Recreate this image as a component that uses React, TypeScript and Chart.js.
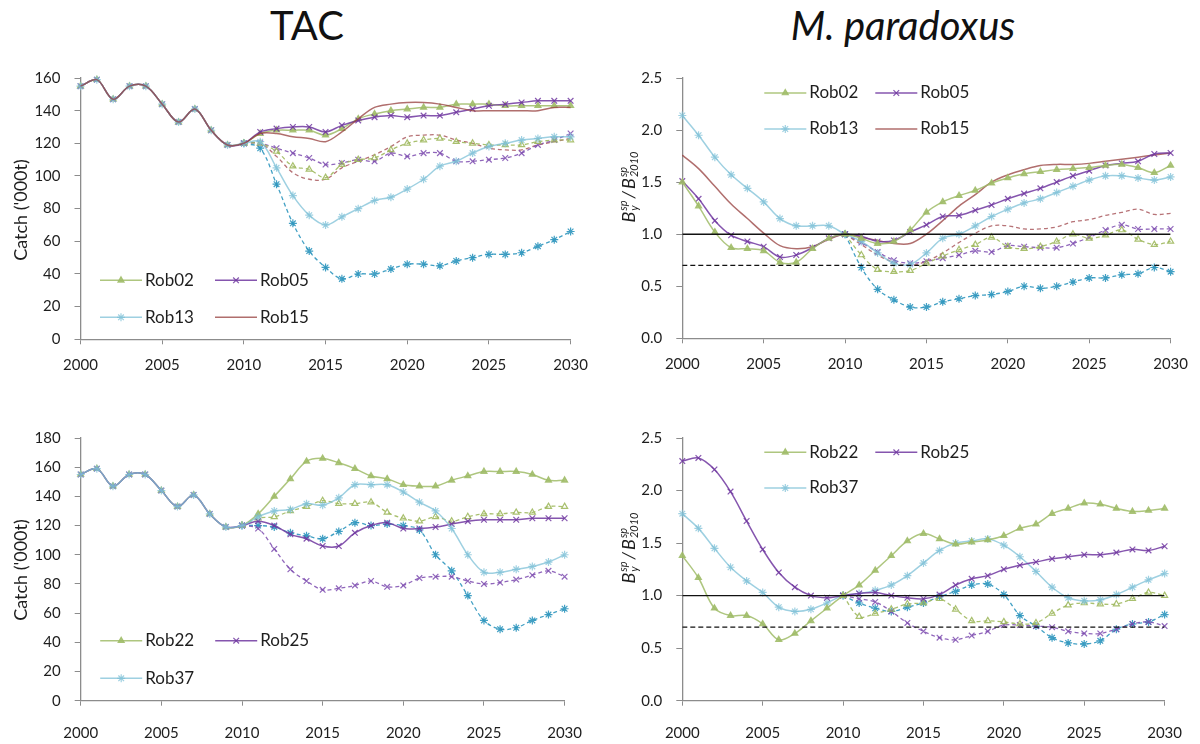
import React, { useEffect, useRef } from 'react';
import { Chart, registerables } from 'chart.js';
import { drawPoint } from 'chart.js/helpers';

Chart.register(...registerables);

// x axis years
const years = [2000, 2001, 2002, 2003, 2004, 2005, 2006, 2007, 2008, 2009, 2010, 2011, 2012, 2013, 2014, 2015, 2016, 2017, 2018, 2019, 2020, 2021, 2022, 2023, 2024, 2025, 2026, 2027, 2028, 2029, 2030];
const projYears = [2010, 2011, 2012, 2013, 2014, 2015, 2016, 2017, 2018, 2019, 2020, 2021, 2022, 2023, 2024, 2025, 2026, 2027, 2028, 2029, 2030];
const refYears = [2000, 2030];
const refOne = [1.0, 1.0];
const refLimit = [0.7, 0.7];

// historical catch 2000-2010 ('000t)
const histCatch = [155, 159, 147, 155, 155, 144, 133, 141, 128, 119, 120];

// TAC projections 2011-2030, top panel
const tacRob02 = [126, 128, 128, 128, 125, 129, 135, 138, 140, 141, 142, 142, 144, 144, 144, 143, 143, 143, 143, 143];
const tacRob05 = [127, 129, 130, 130, 127, 131, 134, 136, 137, 136, 137, 137, 139, 141, 143, 144, 145, 146, 146, 146];
const tacRob13 = [121, 105, 88, 76, 70, 75, 80, 85, 87, 92, 98, 106, 109, 114, 118, 120, 122, 123, 124, 124];
const tacRob15 = [126, 126, 124, 123, 121, 127, 135, 142, 144, 145, 145, 144, 142, 140, 140, 140, 140, 140, 142, 142];
const tacRob02d = [120, 115, 106, 104, 99, 107, 110, 111, 116, 120, 122, 123, 121, 120, 119, 119, 119, 121, 122, 122];
const tacRob05d = [120, 117, 114, 111, 107, 108, 110, 109, 114, 112, 114, 114, 109, 109, 110, 111, 114, 119, 122, 126];
const tacRob13d = [117, 95, 71, 54, 44, 37, 40, 40, 43, 46, 46, 45, 48, 50, 52, 52, 53, 57, 61, 66];
const tacRob15d = [120, 112, 102, 98, 98, 105, 109, 113, 118, 124, 125, 125, 122, 120, 117, 116, 116, 119, 121, 123];

// TAC projections 2011-2030, bottom panel
const tacRob22 = [128, 140, 152, 164, 166, 163, 159, 154, 152, 148, 147, 147, 151, 154, 157, 157, 157, 155, 151, 151];
const tacRob25 = [123, 120, 114, 111, 106, 106, 115, 120, 122, 118, 118, 119, 121, 123, 124, 124, 124, 125, 125, 125];
const tacRob37 = [126, 130, 131, 135, 134, 139, 148, 148, 148, 143, 136, 130, 118, 100, 88, 88, 90, 92, 95, 100];
const tacRob22d = [125, 126, 130, 133, 137, 135, 135, 136, 129, 125, 123, 126, 123, 126, 128, 128, 129, 129, 133, 133];
const tacRob25d = [118, 104, 90, 82, 76, 77, 79, 82, 78, 79, 84, 85, 85, 82, 80, 81, 83, 86, 89, 85];
const tacRob37d = [120, 119, 115, 113, 111, 116, 122, 120, 121, 120, 117, 100, 89, 72, 55, 49, 50, 55, 59, 63];

// Bsp_y / Bsp_2010, 2000-2030, top panel
const bRob02 = [1.50, 1.27, 1.02, 0.87, 0.86, 0.84, 0.73, 0.73, 0.86, 0.96, 1.00, 0.96, 0.91, 0.93, 1.04, 1.21, 1.31, 1.37, 1.42, 1.49, 1.54, 1.58, 1.60, 1.62, 1.63, 1.64, 1.66, 1.67, 1.64, 1.59, 1.66];
const bRob05 = [1.51, 1.34, 1.13, 0.99, 0.93, 0.88, 0.78, 0.80, 0.87, 0.96, 1.00, 0.98, 0.93, 0.94, 1.02, 1.09, 1.17, 1.18, 1.23, 1.28, 1.34, 1.39, 1.44, 1.50, 1.56, 1.61, 1.66, 1.68, 1.70, 1.77, 1.78];
const bRob13 = [2.14, 1.95, 1.74, 1.57, 1.44, 1.31, 1.15, 1.08, 1.08, 1.08, 1.00, 0.93, 0.82, 0.72, 0.71, 0.82, 0.96, 1.00, 1.08, 1.17, 1.24, 1.30, 1.34, 1.40, 1.46, 1.52, 1.56, 1.56, 1.54, 1.52, 1.55];
const bRob15 = [1.76, 1.63, 1.46, 1.29, 1.15, 1.01, 0.89, 0.86, 0.88, 0.95, 1.00, 0.97, 0.94, 0.91, 0.91, 1.00, 1.13, 1.27, 1.38, 1.50, 1.57, 1.62, 1.66, 1.67, 1.67, 1.68, 1.70, 1.72, 1.74, 1.76, 1.78];
// 2011-2030
const bRob02d = [0.80, 0.66, 0.64, 0.65, 0.72, 0.79, 0.85, 0.90, 0.97, 0.88, 0.86, 0.88, 0.93, 1.00, 0.96, 0.99, 1.04, 0.95, 0.90, 0.93];
const bRob05d = [0.92, 0.83, 0.75, 0.72, 0.74, 0.77, 0.80, 0.84, 0.83, 0.89, 0.88, 0.87, 0.87, 0.91, 0.97, 1.04, 1.09, 1.05, 1.05, 1.05];
const bRob13d = [0.68, 0.47, 0.37, 0.30, 0.30, 0.35, 0.38, 0.41, 0.42, 0.45, 0.50, 0.48, 0.50, 0.54, 0.58, 0.58, 0.61, 0.62, 0.68, 0.64];
const bRob15d = [0.90, 0.80, 0.73, 0.70, 0.74, 0.82, 0.92, 1.01, 1.08, 1.08, 1.05, 1.05, 1.07, 1.12, 1.14, 1.18, 1.21, 1.24, 1.19, 1.20];

// Bsp_y / Bsp_2010, bottom panel
const bRob22 = [1.38, 1.17, 0.88, 0.81, 0.81, 0.73, 0.58, 0.64, 0.76, 0.88, 1.00, 1.10, 1.24, 1.38, 1.52, 1.59, 1.54, 1.49, 1.51, 1.53, 1.57, 1.64, 1.68, 1.78, 1.83, 1.88, 1.87, 1.83, 1.80, 1.81, 1.83];
const bRob25 = [2.28, 2.31, 2.20, 1.99, 1.71, 1.44, 1.22, 1.08, 1.00, 0.98, 1.00, 1.02, 1.03, 1.00, 0.98, 0.97, 1.01, 1.10, 1.16, 1.19, 1.25, 1.29, 1.32, 1.35, 1.37, 1.39, 1.39, 1.41, 1.44, 1.43, 1.47];
const bRob37 = [1.78, 1.64, 1.45, 1.27, 1.14, 1.03, 0.89, 0.85, 0.87, 0.93, 1.00, 1.02, 1.05, 1.10, 1.19, 1.31, 1.43, 1.50, 1.52, 1.54, 1.48, 1.37, 1.23, 1.08, 0.98, 0.95, 0.96, 1.01, 1.08, 1.15, 1.21];
const bRob22d = [0.80, 0.83, 0.87, 0.92, 0.93, 0.97, 0.87, 0.76, 0.76, 0.75, 0.73, 0.74, 0.83, 0.91, 0.93, 0.92, 0.92, 0.97, 1.03, 1.00];
const bRob25d = [0.97, 0.94, 0.85, 0.74, 0.66, 0.60, 0.58, 0.62, 0.66, 0.72, 0.72, 0.71, 0.70, 0.66, 0.64, 0.64, 0.68, 0.73, 0.75, 0.71];
const bRob37d = [0.93, 0.88, 0.85, 0.89, 0.93, 0.99, 1.04, 1.10, 1.11, 1.01, 0.81, 0.71, 0.60, 0.55, 0.54, 0.57, 0.68, 0.73, 0.75, 0.82];

const FONT = 'Lato, "Open Sans", sans-serif';
const AXIS = '#8c8c8c';
const TEXT = '#1e1e1e';

const GREEN = 'rgba(160,188,105,0.85)';
const GREEN_D = 'rgba(160,185,95,0.9)';
const PURPLE = 'rgba(112,55,160,0.85)';
const PURPLE_D = 'rgba(125,75,175,0.85)';
const LBLUE = 'rgba(125,192,215,0.75)';
const BLUE_D = 'rgba(45,150,190,0.9)';
const BROWN = 'rgba(150,62,60,0.75)';
const BROWN_D = 'rgba(170,90,95,0.85)';

const pts = (xs: number[], ys: number[]) => xs.map((x, i) => ({ x, y: ys[i] }));

const base = { borderWidth: 1.5, pointBorderWidth: 1.2, clip: false as const, tension: 0.35 };
const styles: Record<string, any> = {
  green: { ...base, borderColor: GREEN, pointStyle: 'triangle', pointRadius: 3.5, pointBackgroundColor: GREEN, pointBorderColor: GREEN },
  greenD: { ...base, borderWidth: 1.3, borderColor: GREEN_D, borderDash: [4, 3], pointStyle: 'triangle', pointRadius: 3.5, pointBackgroundColor: 'rgba(0,0,0,0)', pointBorderColor: GREEN_D },
  purple: { ...base, borderColor: PURPLE, pointStyle: 'crossRot', pointRadius: 4, pointBackgroundColor: PURPLE, pointBorderColor: PURPLE },
  purpleD: { ...base, borderWidth: 1.3, borderColor: PURPLE_D, borderDash: [4, 3], pointStyle: 'crossRot', pointRadius: 4, pointBackgroundColor: PURPLE_D, pointBorderColor: PURPLE_D },
  blue: { ...base, borderColor: LBLUE, pointStyle: 'star', pointRadius: 4, pointBackgroundColor: LBLUE, pointBorderColor: LBLUE },
  blueD: { ...base, borderWidth: 1.3, borderColor: BLUE_D, borderDash: [4, 3], pointStyle: 'star', pointRadius: 4, pointBackgroundColor: BLUE_D, pointBorderColor: BLUE_D },
  brown: { ...base, borderColor: BROWN, pointRadius: 0 },
  brownD: { ...base, borderWidth: 1.3, borderColor: BROWN_D, borderDash: [4, 3], pointRadius: 0 },
};

const series = (label: string, xs: number[], ys: number[], style: string) => ({ label, data: pts(xs, ys), ...styles[style] });

const refLines = () => [
  { label: 'ref1', data: pts(refYears, refOne), borderColor: '#111', borderWidth: 1.4, pointRadius: 0, tension: 0 },
  { label: 'ref07', data: pts(refYears, refLimit), borderColor: '#111', borderWidth: 1.4, borderDash: [5, 3], pointRadius: 0, tension: 0 },
];

// legend drawn inside the plot area
const insideLegend = {
  id: 'insideLegend',
  afterDatasetsDraw(chart: any, _args: any, opts: any) {
    if (!opts || !opts.items) return;
    const { ctx, chartArea } = chart;
    ctx.save();
    opts.items.forEach((it: any) => {
      const ds = chart.data.datasets.find((d: any) => d.label === it.label);
      if (!ds) return;
      const x0 = chartArea.left + it.dx;
      const y = opts.fromBottom ? chartArea.bottom - it.dy : chartArea.top + it.dy;
      ctx.setLineDash([]);
      ctx.strokeStyle = ds.borderColor;
      ctx.lineWidth = ds.borderWidth;
      ctx.beginPath();
      ctx.moveTo(x0, y);
      ctx.lineTo(x0 + 42, y);
      ctx.stroke();
      if (ds.pointRadius > 0) {
        ctx.fillStyle = ds.pointBackgroundColor;
        ctx.strokeStyle = ds.pointBorderColor;
        ctx.lineWidth = ds.pointBorderWidth;
        drawPoint(ctx, { pointStyle: ds.pointStyle, radius: ds.pointRadius, rotation: 0, borderWidth: ds.pointBorderWidth }, x0 + 21, y);
      }
      ctx.fillStyle = TEXT;
      ctx.font = '17px ' + FONT;
      ctx.textBaseline = 'middle';
      ctx.textAlign = 'left';
      ctx.fillText(ds.label, x0 + 45, y);
    });
    ctx.restore();
  },
};

type PanelProps = {
  box: { x: number; y: number; w: number; h: number };
  area: { l: number; t: number; r: number; b: number };
  datasets: any[];
  yMax: number;
  yStep: number;
  decimals: number;
  xPad: number;
  legend: any;
};

const Panel = ({ box, area, datasets, yMax, yStep, decimals, xPad, legend }: PanelProps) => {
  const canvasRef = useRef<HTMLCanvasElement | null>(null);
  const chartRef = useRef<Chart | null>(null);

  useEffect(() => {
    if (!canvasRef.current) return;
    if (chartRef.current) chartRef.current.destroy();
    const tickFont = { family: FONT, size: 15 };
    chartRef.current = new Chart(canvasRef.current, {
      type: 'line',
      data: { datasets },
      plugins: [insideLegend],
      options: {
        responsive: true,
        maintainAspectRatio: false,
        animation: false,
        events: [],
        layout: { padding: { top: area.t - box.y, right: box.x + box.w - area.r, left: 0, bottom: 0 } },
        plugins: {
          legend: { display: false },
          tooltip: { enabled: false },
          insideLegend: legend,
        } as any,
        scales: {
          x: {
            type: 'linear',
            min: 2000,
            max: 2030,
            ticks: { stepSize: 5, color: TEXT, font: tickFont, padding: xPad, maxRotation: 0, callback: (v: any) => String(v) },
            grid: { drawOnChartArea: false, drawTicks: true, tickLength: 5, color: AXIS },
            border: { color: AXIS, width: 1.3 },
            afterFit: (s: any) => { s.height = box.y + box.h - area.b; },
          },
          y: {
            min: 0,
            max: yMax,
            ticks: { stepSize: yStep, color: TEXT, font: tickFont, padding: 14, callback: (v: any) => Number(v).toFixed(decimals) },
            grid: { drawOnChartArea: false, drawTicks: true, tickLength: 6, color: AXIS },
            border: { color: AXIS, width: 1.3 },
            afterFit: (s: any) => { s.width = area.l - box.x; },
          },
        },
      },
    });
    return () => {
      if (chartRef.current) {
        chartRef.current.destroy();
        chartRef.current = null;
      }
    };
  }, []);

  return (
    <div style={{ position: 'absolute', left: box.x, top: box.y, width: box.w, height: box.h }}>
      <canvas ref={canvasRef} />
    </div>
  );
};

const BRatio = () => (
  <i style={{ display: 'inline-flex', alignItems: 'center' }}>
    B
    <span style={{ display: 'inline-flex', flexDirection: 'column', fontSize: 11, lineHeight: 1, marginLeft: 1 }}>
      <span>sp</span>
      <span>y</span>
    </span>
    <span style={{ margin: '0 2px' }}>/</span>
    B
    <span style={{ display: 'inline-flex', flexDirection: 'column', fontSize: 11, lineHeight: 1, marginLeft: 1 }}>
      <span>sp</span>
      <span>2010</span>
    </span>
  </i>
);

const yTitle = (cx: number, cy: number, size: number, content: React.ReactNode) => (
  <div
    style={{
      position: 'absolute', left: cx, top: cy, transform: 'translate(-50%, -50%) rotate(-90deg)',
      whiteSpace: 'nowrap', fontFamily: FONT, fontSize: size, color: TEXT,
    }}
  >
    {content}
  </div>
);

const topLeftSets = [
  series('Rob15', years, [...histCatch, ...tacRob15], 'brown'),
  series('Rob13', years, [...histCatch, ...tacRob13], 'blue'),
  series('Rob05', years, [...histCatch, ...tacRob05], 'purple'),
  series('Rob02', years, [...histCatch, ...tacRob02], 'green'),
  series('Rob02 d', projYears, [histCatch[10], ...tacRob02d], 'greenD'),
  series('Rob05 d', projYears, [histCatch[10], ...tacRob05d], 'purpleD'),
  series('Rob13 d', projYears, [histCatch[10], ...tacRob13d], 'blueD'),
  series('Rob15 d', projYears, [histCatch[10], ...tacRob15d], 'brownD'),
];

const topRightSets = [
  ...refLines(),
  series('Rob02', years, bRob02, 'green'),
  series('Rob05', years, bRob05, 'purple'),
  series('Rob13', years, bRob13, 'blue'),
  series('Rob15', years, bRob15, 'brown'),
  series('Rob02 d', projYears, [bRob02[10], ...bRob02d], 'greenD'),
  series('Rob05 d', projYears, [bRob05[10], ...bRob05d], 'purpleD'),
  series('Rob13 d', projYears, [bRob13[10], ...bRob13d], 'blueD'),
  series('Rob15 d', projYears, [bRob15[10], ...bRob15d], 'brownD'),
];

const bottomLeftSets = [
  series('Rob37', years, [...histCatch, ...tacRob37], 'blue'),
  series('Rob25', years, [...histCatch, ...tacRob25], 'purple'),
  series('Rob22', years, [...histCatch, ...tacRob22], 'green'),
  series('Rob22 d', projYears, [histCatch[10], ...tacRob22d], 'greenD'),
  series('Rob25 d', projYears, [histCatch[10], ...tacRob25d], 'purpleD'),
  series('Rob37 d', projYears, [histCatch[10], ...tacRob37d], 'blueD'),
];

const bottomRightSets = [
  ...refLines(),
  series('Rob22', years, bRob22, 'green'),
  series('Rob25', years, bRob25, 'purple'),
  series('Rob37', years, bRob37, 'blue'),
  series('Rob22 d', projYears, [bRob22[10], ...bRob22d], 'greenD'),
  series('Rob25 d', projYears, [bRob25[10], ...bRob25d], 'purpleD'),
  series('Rob37 d', projYears, [bRob37[10], ...bRob37d], 'blueD'),
];

const App = () => {
  return (
    <div style={{ position: 'absolute', left: 0, top: 0, width: 1200, height: 744, background: '#fff', overflow: 'hidden', fontFamily: FONT }}>
      <div style={{ position: 'absolute', left: 307, top: 25, transform: 'translate(-50%, -50%)', fontSize: 40, color: '#111' }}>TAC</div>
      <div style={{ position: 'absolute', left: 903, top: 25, transform: 'translate(-50%, -50%)', fontSize: 40, fontStyle: 'italic', color: '#111', whiteSpace: 'nowrap' }}>M. paradoxus</div>

      <Panel
        box={{ x: 0, y: 55, w: 600, h: 330 }}
        area={{ l: 80.5, t: 73.3, r: 571.7, b: 339.3 }}
        datasets={topLeftSets}
        yMax={160}
        yStep={20}
        decimals={0}
        xPad={12}
        legend={{ fromBottom: true, items: [
          { label: 'Rob02', dx: 19.5, dy: 59 },
          { label: 'Rob05', dx: 134.5, dy: 59 },
          { label: 'Rob13', dx: 19.5, dy: 22 },
          { label: 'Rob15', dx: 134.5, dy: 22 },
        ] }}
      />
      <Panel
        box={{ x: 600, y: 55, w: 600, h: 330 }}
        area={{ l: 682.3, t: 73.3, r: 1174, b: 338.3 }}
        datasets={topRightSets}
        yMax={2.5}
        yStep={0.5}
        decimals={1}
        xPad={12}
        legend={{ fromBottom: false, items: [
          { label: 'Rob02', dx: 82, dy: 15 },
          { label: 'Rob05', dx: 193, dy: 15 },
          { label: 'Rob13', dx: 82, dy: 51 },
          { label: 'Rob15', dx: 193, dy: 51 },
        ] }}
      />
      <Panel
        box={{ x: 0, y: 415, w: 600, h: 329 }}
        area={{ l: 80.7, t: 435, r: 571.7, b: 700.7 }}
        datasets={bottomLeftSets}
        yMax={180}
        yStep={20}
        decimals={0}
        xPad={18}
        legend={{ fromBottom: true, items: [
          { label: 'Rob22', dx: 19.5, dy: 60 },
          { label: 'Rob25', dx: 134.5, dy: 60 },
          { label: 'Rob37', dx: 19.5, dy: 22.4 },
        ] }}
      />
      <Panel
        box={{ x: 600, y: 415, w: 600, h: 329 }}
        area={{ l: 682.3, t: 435, r: 1174, b: 700.7 }}
        datasets={bottomRightSets}
        yMax={2.5}
        yStep={0.5}
        decimals={1}
        xPad={18}
        legend={{ fromBottom: false, items: [
          { label: 'Rob22', dx: 82, dy: 14.3 },
          { label: 'Rob25', dx: 193, dy: 14.3 },
          { label: 'Rob37', dx: 82, dy: 50 },
        ] }}
      />

      {yTitle(20, 210, 18, "Catch ('000t)")}
      {yTitle(20, 570, 18, "Catch ('000t)")}
      {yTitle(628, 187, 18, <BRatio />)}
      {yTitle(628, 548, 18, <BRatio />)}
    </div>
  );
};

export default App;
